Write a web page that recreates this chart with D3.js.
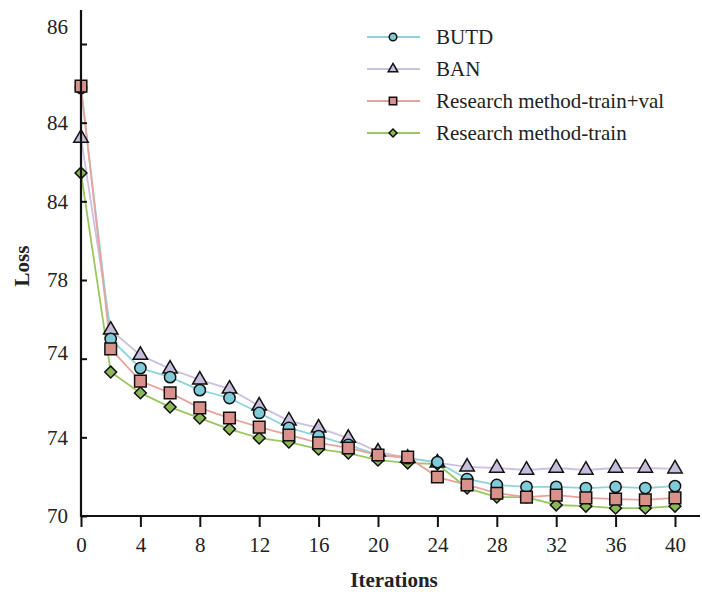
<!DOCTYPE html>
<html><head><meta charset="utf-8">
<script src="https://cdn.jsdelivr.net/npm/d3@7/dist/d3.min.js"></script>
<style>body{margin:0;background:#fff}svg{display:block}text{font-family:"Liberation Serif","Times New Roman",serif;fill:#222}</style>
</head><body><svg id="c" width="702" height="592"></svg>
<script>
const iterations = [0,2,4,6,8,10,12,14,16,18,20,22,24,26,28,30,32,34,36,38,40];
const butd = [80.88,74.50,73.76,73.53,73.20,73.00,72.62,72.24,72.03,71.81,71.55,71.47,71.37,70.94,70.79,70.74,70.74,70.71,70.74,70.71,70.76];
const ban = [79.61,74.73,74.09,73.74,73.46,73.23,72.80,72.42,72.24,71.98,71.63,71.47,71.35,71.25,71.22,71.17,71.22,71.17,71.22,71.22,71.20];
const trainVal = [80.93,74.25,73.43,73.13,72.75,72.49,72.26,72.06,71.86,71.73,71.55,71.50,70.99,70.79,70.58,70.48,70.53,70.46,70.43,70.41,70.46];
const train = [78.72,73.66,73.13,72.77,72.49,72.21,71.98,71.88,71.70,71.60,71.42,71.35,71.32,70.71,70.48,70.48,70.28,70.25,70.20,70.20,70.25];
const seriesNames = ["BUTD","BAN","Research method-train+val","Research method-train"];
const xTicks = [0,4,8,12,16,20,24,28,32,36,40];
const yTickValues = [70,72,74,76,78,80,82];
const yTickLabels = ["70","74","74","78","84","84","86"];

const series = [
  {name:seriesNames[0], values:butd, line:"#8fd3df", fill:"#7fcbd8", sym:d3.symbolCircle, size:100, lsize:45, rot:0},
  {name:seriesNames[1], values:ban, line:"#cbc1de", fill:"#c6bcdb", sym:d3.symbolTriangle, size:90, lsize:40, rot:0},
  {name:seriesNames[2], values:trainVal, line:"#e9a39d", fill:"#d9918b", sym:d3.symbolSquare, size:135, lsize:55, rot:0},
  {name:seriesNames[3], values:train, line:"#9cc65e", fill:"#8bb856", sym:d3.symbolSquare, size:70, lsize:32, rot:45}
];

const svg = d3.select("#c");
const x = d3.scaleLinear().domain([0,40]).range([81,675]);
const y = d3.scaleLinear().domain([70,82]).range([516,44]);
const xEnd = 700, yTop = 10;

// lines
const line = d3.line().x((d,i)=>x(iterations[i])).y(d=>y(d));
const drawOrder = [1,3,0,2];
drawOrder.forEach(k=>{
  const s = series[k];
  svg.append("path").attr("d", line(s.values)).attr("fill","none")
    .attr("stroke", s.line).attr("stroke-width", 1.8);
});
drawOrder.forEach(k=>{
  const s = series[k];
  svg.append("g").selectAll("path").data(s.values).join("path")
    .attr("transform",(d,i)=>`translate(${x(iterations[i])},${y(d)}) rotate(${s.rot})`)
    .attr("d", d3.symbol().type(s.sym).size(s.size)())
    .attr("fill", s.fill).attr("stroke","#111").attr("stroke-width",1.5);
});

// axes
const yAxis = svg.append("g").attr("transform","translate(81,0)")
  .call(d3.axisLeft(y).tickValues(yTickValues).tickFormat((d,i)=>yTickLabels[i]).tickSizeInner(-6).tickSizeOuter(0).tickPadding(13));
yAxis.select(".domain").remove();
yAxis.selectAll(".tick line").attr("stroke","#111").attr("stroke-width",2);
yAxis.selectAll(".tick text").style("font-size","21px").attr("fill","#222")
  .attr("dy",(d,i)=> i===yTickValues.length-1 ? "-0.48em" : (i===2 ? "0.05em" : "0.32em"));
svg.append("line").attr("x1",81).attr("x2",81).attr("y1",yTop).attr("y2",y(70)+1)
  .attr("stroke","#111").attr("stroke-width",2.2);

const xAxis = svg.append("g").attr("transform",`translate(0,${y(70)})`)
  .call(d3.axisBottom(x).tickValues(xTicks).tickSizeInner(11).tickSizeOuter(0).tickPadding(10));
xAxis.select(".domain").remove();
xAxis.selectAll(".tick line").attr("stroke","#111").attr("stroke-width",2);
xAxis.selectAll(".tick text").style("font-size","21px").attr("fill","#222");
svg.append("line").attr("x1",80).attr("x2",xEnd).attr("y1",y(70)).attr("y2",y(70))
  .attr("stroke","#111").attr("stroke-width",2.2);

// titles
svg.append("text").attr("x",394).attr("y",587).attr("text-anchor","middle")
  .style("font-size","21px").style("font-weight","bold").text("Iterations");
svg.append("text").attr("transform","translate(29,266) rotate(-90)").attr("text-anchor","middle")
  .style("font-size","21px").style("font-weight","bold").text("Loss");

// legend
const lg = svg.append("g");
series.forEach((s,i)=>{
  const yy = 37 + i*32;
  lg.append("line").attr("x1",367).attr("x2",420).attr("y1",yy).attr("y2",yy)
    .attr("stroke",s.line).attr("stroke-width",1.8);
  lg.append("path").attr("transform",`translate(393,${yy}) rotate(${s.rot})`)
    .attr("d", d3.symbol().type(s.sym).size(s.lsize)())
    .attr("fill",s.fill).attr("stroke","#111").attr("stroke-width",1.5);
  lg.append("text").attr("x",436).attr("y",yy+7).style("font-size","21px").text(s.name);
});
</script></body></html>
